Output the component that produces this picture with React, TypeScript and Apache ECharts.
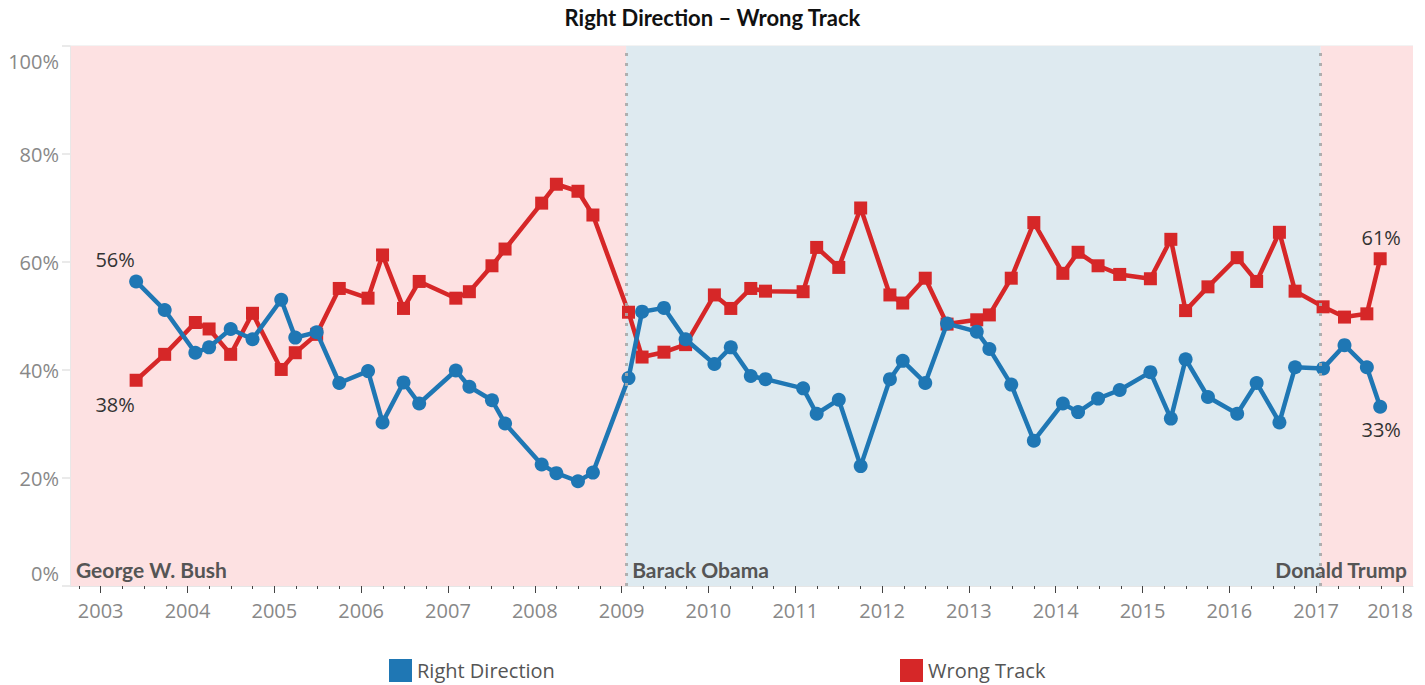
import React, { useEffect, useRef } from "react";
import * as echarts from "echarts";

const dates = [
  "2003-05-30", "2003-09-27", "2004-02-03", "2004-04-01", "2004-07-01", "2004-10-01",
  "2005-01-30", "2005-03-30", "2005-06-28", "2005-10-01", "2006-01-30", "2006-04-01",
  "2006-06-28", "2006-09-02", "2007-02-03", "2007-04-01", "2007-07-05", "2007-08-29",
  "2008-01-30", "2008-04-01", "2008-07-01", "2008-09-02", "2009-01-30", "2009-03-28",
  "2009-06-28", "2009-09-27", "2010-01-26", "2010-04-05", "2010-06-28", "2010-08-29",
  "2011-02-03", "2011-04-01", "2011-07-03", "2011-10-03", "2012-02-03", "2012-03-28",
  "2012-07-01", "2012-10-01", "2013-02-03", "2013-03-28", "2013-06-28", "2013-10-01",
  "2014-01-31", "2014-04-05", "2014-06-28", "2014-09-27", "2015-02-03", "2015-04-30",
  "2015-07-01", "2015-10-03", "2016-02-03", "2016-04-25", "2016-07-30", "2016-10-04",
  "2017-01-30", "2017-04-30", "2017-08-02", "2017-09-27",
];

const rightDirection = [
  56.4, 51.1, 43.2, 44.2, 47.6, 45.7, 53.0, 46.0, 47.0, 37.6, 39.8, 30.3,
  37.7, 33.8, 39.9, 36.9, 34.4, 30.1, 22.5, 20.9, 19.4, 21.0, 38.5, 50.8,
  51.5, 45.7, 41.1, 44.2, 38.9, 38.3, 36.6, 31.9, 34.5, 22.2, 38.3, 41.7,
  37.6, 48.6, 47.1, 43.9, 37.3, 26.9, 33.8, 32.2, 34.7, 36.3, 39.6, 31.0,
  42.0, 35.0, 31.9, 37.6, 30.3, 40.5, 40.3, 44.6, 40.5, 33.2,
];

const wrongTrack = [
  38.1, 42.9, 48.8, 47.6, 42.9, 50.5, 40.1, 43.2, 46.6, 55.1, 53.3, 61.3,
  51.4, 56.4, 53.3, 54.5, 59.3, 62.4, 70.9, 74.4, 73.1, 68.7, 50.7, 42.4,
  43.3, 44.7, 53.9, 51.4, 55.1, 54.6, 54.5, 62.7, 59.0, 70.0, 53.9, 52.4,
  57.0, 48.5, 49.3, 50.2, 57.0, 67.3, 57.9, 61.8, 59.3, 57.7, 56.9, 64.2,
  51.0, 55.4, 60.8, 56.4, 65.5, 54.6, 51.7, 49.8, 50.4, 60.6,
];

const yearTicks = [2003, 2004, 2005, 2006, 2007, 2008, 2009, 2010, 2011, 2012, 2013, 2014, 2015, 2016, 2017, 2018];

const axisStart = "2002-08-25";
const axisEnd = "2018-02-12";

const presidents = [
  { name: "George W. Bush", start: axisStart, end: "2009-01-20", color: "#fde1e2", align: "left" },
  { name: "Barack Obama", start: "2009-01-20", end: "2017-01-20", color: "#deeaf0", align: "left" },
  { name: "Donald Trump", start: "2017-01-20", end: axisEnd, color: "#fde1e2", align: "right" },
];

function toYear(d: string): number {
  const [y, m, dd] = d.split("-").map(Number);
  const s = Date.UTC(y, 0, 1);
  const e = Date.UTC(y + 1, 0, 1);
  return y + (Date.UTC(y, m - 1, dd) - s) / (e - s);
}

const FONT = "'Open Sans', sans-serif";

export default function App() {
  const ref = useRef<HTMLDivElement>(null);

  useEffect(() => {
    if (!ref.current) return;
    const chart = echarts.init(ref.current, undefined, { renderer: "svg" });
    const xMin = toYear(axisStart);
    const xMax = toYear(axisEnd);
    const n = dates.length;

    const labelFor = (i: number, which: "rd" | "wt") => {
      if (which === "rd") {
        if (i === 0) return { show: true, position: "top", offset: [-21, 0] };
        if (i === n - 1) return { show: true, position: "bottom", offset: [1, 1] };
      } else {
        if (i === 0) return { show: true, position: "bottom", offset: [-21, 3] };
        if (i === n - 1) return { show: true, position: "top", offset: [1, 0] };
      }
      return undefined;
    };

    const mk = (vals: number[], which: "rd" | "wt") =>
      vals.map((v, i) => {
        const lab = labelFor(i, which);
        const item: any = { value: [toYear(dates[i]), v] };
        if (lab) item.label = lab;
        return item;
      });

    const quarterTicks: number[] = [];
    [2002, ...yearTicks].forEach((y) => {
      [0.25, 0.5, 0.75].forEach((q) => {
        const v = y + q;
        if (v > xMin && v < xMax) quarterTicks.push(v);
      });
    });

    const seriesLabel = {
      show: false,
      formatter: (p: any) => Math.round(p.value[1]) + "%",
      color: "#333",
      fontSize: 20,
      fontFamily: FONT,
    };

    const legendBase = {
      top: 659,
      padding: 0,
      icon: "rect",
      itemWidth: 23,
      itemHeight: 23,
      textStyle: { fontFamily: FONT, fontSize: 20, color: "#555", lineHeight: 22 },
    };

    const option: any = {
      animation: false,
      title: {
        text: "Right Direction – Wrong Track",
        left: "center",
        top: 1,
        textStyle: { fontFamily: "Lato, sans-serif", fontWeight: "bold", fontSize: 22, color: "#111" },
      },
      legend: [
        { ...legendBase, data: ["Right Direction"], left: 389 },
        { ...legendBase, data: ["Wrong Track"], left: 900 },
      ],
      grid: { left: 70, right: 12, top: 46, bottom: 99, containLabel: false, outerBoundsMode: "none" },
      xAxis: [
        {
          type: "value",
          position: "bottom",
          offset: 0,
          min: xMin,
          max: xMax,
          axisLine: { show: true, lineStyle: { color: "#e6e6e6", width: 1 } },
          axisTick: { show: true, customValues: yearTicks, length: 7, lineStyle: { color: "#444", width: 1 } },
          axisLabel: {
            show: true,
            customValues: yearTicks,
            margin: 14,
            fontFamily: FONT,
            fontSize: 20,
            color: "#888",
            formatter: (v: number) => (Math.round(v) === 2018 ? "{r|" + Math.round(v) + "}" : String(Math.round(v))),
            rich: { r: { padding: [0, 26, 0, 0], fontFamily: FONT, fontSize: 20, color: "#888" } },
          },
          splitLine: { show: false },
          z: 1,
        },
        {
          type: "value",
          position: "bottom",
          offset: 0,
          min: xMin,
          max: xMax,
          axisLine: { show: false },
          axisTick: { show: true, customValues: quarterTicks, length: 3, lineStyle: { color: "#444", width: 1 } },
          axisLabel: { show: false },
          splitLine: { show: false },
          z: 1,
        },
      ],
      yAxis: {
        type: "value",
        min: 0,
        max: 100,
        interval: 20,
        axisLine: { show: true, lineStyle: { color: "#e8e8e8" } },
        axisTick: { show: true, length: 8, lineStyle: { color: "#eaeaea", width: 2 } },
        splitLine: { show: true, lineStyle: { color: "#f3f3f3", width: 2 } },
        axisLabel: {
          margin: 11,
          fontFamily: FONT,
          fontSize: 20,
          color: "#888",
          formatter: (v: number) => (v === 100 ? "{t|100%}" : v === 0 ? "{b|0%}" : v + "%"),
          rich: {
            t: { padding: [30, 0, 0, 0], fontFamily: FONT, fontSize: 20, color: "#888" },
            b: { padding: [0, 0, 26, 0], fontFamily: FONT, fontSize: 20, color: "#888" },
          },
        },
        z: 1,
      },
      series: [
        {
          name: "bands",
          type: "line",
          data: [],
          z: 0,
          silent: true,
          markArea: {
            silent: true,
            data: presidents.map((p) => [
              {
                xAxis: toYear(p.start),
                itemStyle: { color: p.color },
                label: {
                  show: true,
                  position: p.align === "left" ? "insideBottomLeft" : "insideBottomRight",
                  distance: 6,
                  formatter: p.name,
                  fontFamily: "Lato, sans-serif",
                  fontWeight: "bold",
                  fontSize: 21,
                  color: "#555",
                },
              },
              { xAxis: toYear(p.end) },
            ]),
          },
        },
        {
          name: "Wrong Track",
          type: "line",
          data: mk(wrongTrack, "wt"),
          z: 3,
          color: "#d62728",
          symbol: "rect",
          symbolSize: 13,
          lineStyle: { width: 4.5, color: "#d62728" },
          itemStyle: { color: "#d62728" },
          label: seriesLabel,
          emphasis: { disabled: true },
        },
        {
          name: "Right Direction",
          type: "line",
          data: mk(rightDirection, "rd"),
          z: 4,
          color: "#1f77b4",
          symbol: "circle",
          symbolSize: 14,
          lineStyle: { width: 4.5, color: "#1f77b4" },
          itemStyle: { color: "#1f77b4" },
          label: seriesLabel,
          emphasis: { disabled: true },
        },
        {
          name: "dividers",
          type: "line",
          data: [],
          z: 5,
          silent: true,
          markLine: {
            silent: true,
            symbol: "none",
            label: { show: false },
            lineStyle: { color: "#a9a9a9", type: [3, 7], width: 3, opacity: 0.9 },
            data: presidents.slice(1).map((p) => ({ xAxis: toYear(p.start) })),
          },
        },
      ],
    };

    chart.setOption(option);
    return () => chart.dispose();
  }, []);

  return (
    <div
      ref={ref}
      style={{ position: "fixed", left: 0, top: 0, width: 1425, height: 685, background: "#fff" }}
    />
  );
}
